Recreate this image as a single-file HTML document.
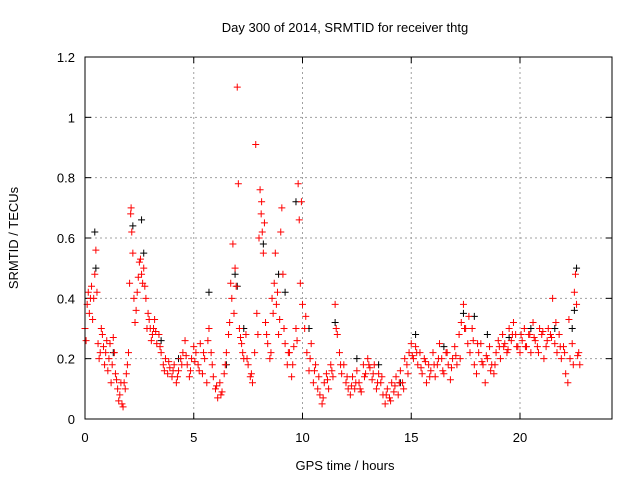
<!DOCTYPE html>
<html><head><meta charset="utf-8"><style>
body{margin:0;background:#fff}
svg text{font-family:"Liberation Sans",sans-serif;font-size:13px;fill:#000}
</style></head><body>
<svg id="chart" width="640" height="480" xmlns="http://www.w3.org/2000/svg">
<text x="345" y="32" text-anchor="middle">Day 300 of 2014, SRMTID for receiver thtg</text>
<text x="345" y="470" text-anchor="middle">GPS time / hours</text>
<text transform="translate(18,238) rotate(-90)" text-anchor="middle">SRMTID / TECUs</text>
<g id="grid"></g>
<g id="axes"></g>
<g id="black"></g>
<g id="red"></g>
<rect x="85" y="57" width="527" height="362" fill="none" stroke="#000" stroke-width="1"/>
</svg>
<script>
const xTicks=[0,5,10,15,20];
const yTicks=[0,0.2,0.4,0.6,0.8,1,1.2];
const yTickLabels=["0","0.2","0.4","0.6","0.8","1","1.2"];
const redT=[0,0.1,0.15,0.2,0.3,0.4,0.45,0.5,0.55,0.6,0.7,0.8,0.9,1.0,1.1,1.2,1.3,1.4,1.5,1.6,1.7,1.8,1.9,2.0,2.05,2.1,2.15,2.2,2.3,2.4,2.5,2.6,2.7,2.8,2.9,3.0,3.1,3.2,3.3,3.4,3.5,3.6,3.7,3.8,3.9,4.0,4.1,4.2,4.3,4.4,4.5,4.6,4.7,4.8,4.9,5.0,5.1,5.2,5.3,5.4,5.5,5.6,5.7,5.8,5.9,6.0,6.1,6.2,6.3,6.4,6.5,6.6,6.7,6.8,6.85,6.9,7.0,7.05,7.1,7.2,7.3,7.4,7.5,7.6,7.7,7.8,7.85,7.9,8.0,8.05,8.1,8.15,8.2,8.3,8.4,8.5,8.6,8.7,8.75,8.8,8.9,9.0,9.05,9.1,9.2,9.3,9.4,9.5,9.6,9.7,9.8,9.85,9.9,10.0,10.1,10.2,10.3,10.4,10.5,10.6,10.7,10.8,10.9,11.0,11.1,11.2,11.3,11.4,11.5,11.6,11.7,11.8,11.9,12.0,12.1,12.2,12.3,12.4,12.5,12.6,12.7,12.8,12.9,13.0,13.1,13.2,13.3,13.4,13.5,13.6,13.7,13.8,13.9,14.0,14.1,14.2,14.3,14.4,14.5,14.6,14.7,14.8,14.9,15.0,15.1,15.2,15.3,15.4,15.5,15.6,15.7,15.8,15.9,16.0,16.1,16.2,16.3,16.4,16.5,16.6,16.7,16.8,16.9,17.0,17.1,17.2,17.3,17.4,17.5,17.6,17.7,17.8,17.9,18.0,18.1,18.2,18.3,18.4,18.5,18.6,18.7,18.8,18.9,19.0,19.1,19.2,19.3,19.4,19.5,19.6,19.7,19.8,19.9,20.0,20.1,20.2,20.3,20.4,20.5,20.6,20.7,20.8,20.9,21.0,21.1,21.2,21.3,21.4,21.5,21.6,21.7,21.8,21.9,22.0,22.1,22.2,22.3,22.4,22.5,22.55,22.6,22.7,22.75];
const redV=[.30,.38,.42,.35,.44,.40,.48,.56,.42,.25,.22,.28,.18,.26,.20,.12,.27,.15,.10,.08,.05,.12,.15,.22,.45,.68,.62,.55,.32,.42,.52,.48,.50,.40,.35,.30,.28,.33,.25,.28,.22,.18,.20,.15,.17,.14,.18,.12,.16,.20,.22,.26,.18,.14,.20,.24,.22,.18,.25,.15,.20,.12,.30,.22,.14,.10,.07,.12,.09,.15,.22,.28,.45,.58,.35,.50,1.10,.78,.30,.25,.20,.28,.18,.14,.12,.22,.91,.35,.60,.76,.68,.62,.55,.32,.25,.20,.40,.45,.55,.38,.28,.62,.70,.48,.25,.18,.22,.14,.24,.30,.78,.66,.45,.38,.30,.22,.16,.25,.12,.18,.10,.08,.05,.12,.15,.10,.18,.14,.38,.28,.22,.15,.18,.12,.10,.08,.14,.10,.16,.12,.09,.18,.15,.20,.17,.13,.18,.10,.15,.12,.08,.05,.10,.07,.12,.09,.14,.08,.16,.12,.20,.18,.22,.25,.20,.24,.18,.22,.15,.20,.12,.18,.16,.22,.14,.18,.25,.20,.15,.22,.18,.13,.20,.24,.18,.28,.32,.38,.30,.25,.22,.30,.18,.15,.22,.25,.18,.12,.20,.24,.18,.15,.22,.26,.20,.28,.25,.22,.30,.26,.32,.28,.24,.22,.26,.30,.24,.28,.22,.32,.26,.24,.30,.28,.20,.24,.30,.28,.40,.25,.22,.28,.20,.24,.15,.12,.20,.25,.42,.48,.38,.22,.18];
const redT2=[0.05,0.25,0.35,0.65,0.75,0.85,0.95,1.05,1.15,1.25,1.35,1.45,1.55,1.65,1.75,1.85,1.95,2.12,2.25,2.35,2.45,2.55,2.65,2.75,2.85,2.95,3.05,3.15,3.25,3.45,3.65,3.85,4.05,4.25,4.45,4.65,4.85,5.05,5.25,5.45,5.65,5.85,6.05,6.25,6.45,6.65,6.75,6.95,7.15,7.25,7.45,7.65,7.95,8.12,8.25,8.35,8.55,8.65,8.85,8.95,9.15,9.35,9.55,9.75,9.95,10.15,10.35,10.55,10.75,10.95,11.15,11.35,11.55,11.75,12.05,12.25,12.45,12.65,12.85,13.05,13.25,13.45,13.65,13.85,14.05,14.25,14.45,14.65,14.85,15.05,15.25,15.45,15.65,15.85,16.05,16.25,16.45,16.65,16.85,17.05,17.25,17.45,17.65,17.85,18.05,18.25,18.45,18.65,18.85,19.05,19.25,19.45,19.65,19.85,20.05,20.25,20.45,20.65,20.85,21.05,21.25,21.45,21.65,21.85,22.05,22.25,22.45,22.65];
const redV2=[.26,.40,.33,.20,.30,.24,.22,.16,.25,.18,.22,.13,.06,.12,.04,.10,.18,.70,.40,.36,.47,.53,.45,.44,.30,.33,.26,.30,.29,.24,.16,.19,.16,.14,.18,.21,.16,.19,.16,.22,.26,.18,.11,.08,.18,.32,.40,.44,.27,.22,.20,.15,.28,.72,.65,.28,.22,.35,.42,.33,.30,.22,.18,.26,.72,.34,.20,.16,.14,.07,.13,.16,.30,.18,.14,.11,.12,.10,.14,.18,.15,.12,.14,.08,.06,.11,.12,.10,.15,.21,.22,.17,.19,.14,.18,.20,.16,.22,.17,.21,.20,.30,.34,.26,.25,.19,.21,.16,.18,.24,.24,.23,.28,.24,.28,.24,.28,.27,.22,.29,.26,.27,.32,.24,.22,.33,.18,.21,.45,.32];
const blackT=[0.45,0.5,1.3,2.2,2.6,2.7,3.5,4.3,5.7,6.5,6.9,7.0,7.3,8.2,8.9,9.2,9.7,10.3,11.5,12.5,13.5,14.5,15.2,16.5,17.4,17.9,18.5,19.5,20.5,21.6,22.4,22.5,22.6];
const blackV=[.62,.50,.22,.64,.66,.55,.26,.20,.42,.18,.48,.44,.30,.58,.48,.42,.72,.30,.32,.20,.18,.12,.28,.24,.35,.34,.28,.27,.30,.30,.30,.36,.50];
const NS="http://www.w3.org/2000/svg";
const X=t=>85+(t/24.23)*527;
const Y=v=>419-(v/1.2)*362;
function mk(tag,attrs,parent){const e=document.createElementNS(NS,tag);for(const k in attrs)e.setAttribute(k,attrs[k]);parent.appendChild(e);return e;}
const grid=document.getElementById('grid'),axes=document.getElementById('axes');
xTicks.forEach(t=>{
  const x=X(t);
  if(t>0){const l=mk('line',{x1:x,y1:57,x2:x,y2:419,stroke:'#a0a0a0','stroke-dasharray':'2,3'},grid);
  
  }
  mk('line',{x1:x,y1:419,x2:x,y2:413,stroke:'#000'},axes);
  mk('line',{x1:x,y1:57,x2:x,y2:63,stroke:'#000'},axes);
  const tx=mk('text',{x:x,y:442,'text-anchor':'middle'},axes);tx.textContent=t;
  
  
});
yTicks.forEach((v,i)=>{
  const y=Y(v);
  if(v>0&&v<1.2){const l=mk('line',{x1:85,y1:y,x2:612,y2:y,stroke:'#a0a0a0','stroke-dasharray':'2,3'},grid);
  
  }
  mk('line',{x1:85,y1:y,x2:91,y2:y,stroke:'#000'},axes);
  mk('line',{x1:612,y1:y,x2:606,y2:y,stroke:'#000'},axes);
  const tx=mk('text',{x:75,y:y+5,'text-anchor':'end'},axes);tx.textContent=yTickLabels[i];
  
  
});
function plus(g,t,v,c){
  const x=X(t),y=Y(v);
  const p=mk('path',{d:`M${x-3.5},${y}h7M${x},${y-3.5}v7`,stroke:c,'stroke-width':1,fill:'none'},g);
  
  
}
const bg=document.getElementById('black'),rg=document.getElementById('red');
blackT.forEach((t,i)=>plus(bg,t,blackV[i],'#000'));
redT.forEach((t,i)=>plus(rg,t,redV[i],'#ff0000'));
redT2.forEach((t,i)=>plus(rg,t,redV2[i],'#ff0000'));
</script>
</body></html>
